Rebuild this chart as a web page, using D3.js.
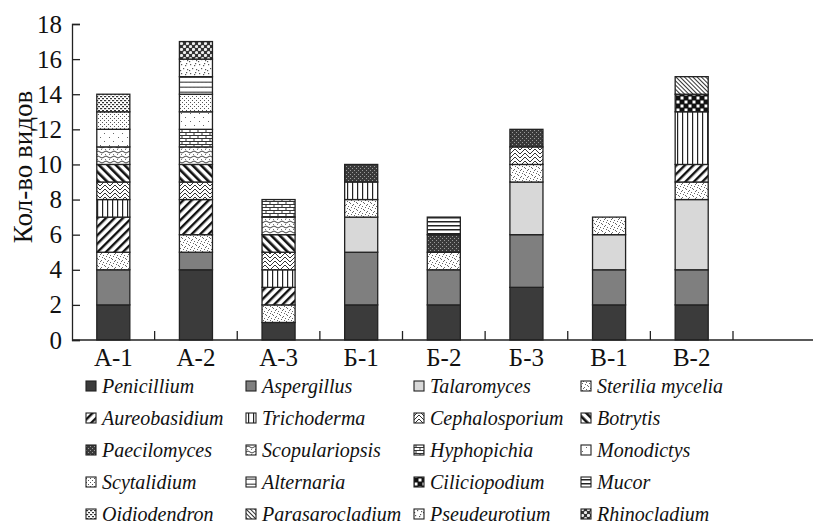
<!DOCTYPE html>
<html>
<head>
<meta charset="utf-8">
<script src="https://cdn.jsdelivr.net/npm/d3@7"></script>
<style>
  html, body { margin: 0; padding: 0; background: #fff; }
  svg { display: block; }
  text { font-family: "Liberation Serif", "Times New Roman", serif; fill: #111; }
</style>
</head>
<body>
<svg id="chart" width="813" height="529"></svg>
<script>
// Sampling sites
const categories = ["А-1", "А-2", "А-3", "Б-1", "Б-2", "Б-3", "В-1", "В-2"];

// Number of species per genus at each site (same order as categories)
const penicillium     = [2, 4, 1, 2, 2, 3, 2, 2];
const aspergillus     = [2, 1, 0, 3, 2, 3, 2, 2];
const talaromyces     = [0, 0, 0, 2, 0, 3, 2, 4];
const steriliaMycelia = [1, 1, 1, 1, 1, 1, 1, 1];
const aureobasidium   = [2, 2, 1, 0, 0, 0, 0, 1];
const trichoderma     = [1, 0, 1, 1, 0, 0, 0, 3];
const cephalosporium  = [1, 1, 1, 0, 0, 1, 0, 0];
const botrytis        = [1, 1, 1, 0, 0, 0, 0, 0];
const paecilomyces    = [0, 0, 0, 1, 1, 1, 0, 0];
const scopulariopsis  = [1, 1, 1, 0, 0, 0, 0, 0];
const hyphopichia     = [0, 1, 1, 0, 0, 0, 0, 0];
const monodictys      = [1, 1, 0, 0, 0, 0, 0, 0];
const scytalidium     = [1, 1, 0, 0, 0, 0, 0, 0];
const alternaria      = [0, 1, 0, 0, 0, 0, 0, 0];
const ciliciopodium   = [0, 0, 0, 0, 0, 0, 0, 1];
const mucor           = [0, 0, 0, 0, 1, 0, 0, 0];
const oidiodendron    = [1, 0, 0, 0, 0, 0, 0, 0];
const parasarocladium = [0, 0, 0, 0, 0, 0, 0, 1];
const pseudeurotium   = [0, 1, 0, 0, 0, 0, 0, 0];
const rhinocladium    = [0, 1, 0, 0, 0, 0, 0, 0];

const seriesNames = [
  "Penicillium", "Aspergillus", "Talaromyces", "Sterilia mycelia",
  "Aureobasidium", "Trichoderma", "Cephalosporium", "Botrytis",
  "Paecilomyces", "Scopulariopsis", "Hyphopichia", "Monodictys",
  "Scytalidium", "Alternaria", "Ciliciopodium", "Mucor",
  "Oidiodendron", "Parasarocladium", "Pseudeurotium", "Rhinocladium"
];
const seriesValues = [
  penicillium, aspergillus, talaromyces, steriliaMycelia,
  aureobasidium, trichoderma, cephalosporium, botrytis,
  paecilomyces, scopulariopsis, hyphopichia, monodictys,
  scytalidium, alternaria, ciliciopodium, mucor,
  oidiodendron, parasarocladium, pseudeurotium, rhinocladium
];
const yTicks = [0, 2, 4, 6, 8, 10, 12, 14, 16, 18];

const svg = d3.select("#chart");
const defs = svg.append("defs");

// ---- fill patterns, one per genus ----
function pattern(id, w, h, bg, draw, transform) {
  const p = defs.append("pattern")
    .attr("id", id).attr("patternUnits", "userSpaceOnUse")
    .attr("width", w).attr("height", h);
  if (transform) p.attr("patternTransform", transform);
  p.append("rect").attr("width", w).attr("height", h).attr("fill", bg);
  draw(p);
  return "url(#" + id + ")";
}
const dots = (g, pts, r, col) => pts.forEach(([x, y]) =>
  g.append("rect").attr("x", x).attr("y", y).attr("width", r).attr("height", r).attr("fill", col));

const fills = {};
fills["Penicillium"] = "#3b3b3b";
fills["Aspergillus"] = "#7f7f7f";
fills["Talaromyces"] = "#d8d8d8";
fills["Sterilia mycelia"] = pattern("p-ster", 7, 7, "#fff", g =>
  dots(g, [[0,0],[3,1],[5,3],[1,4],[4,5],[6,6],[2,2]], 1, "#666"));
fills["Aureobasidium"] = pattern("p-aureo", 6, 6, "#fff", g =>
  g.append("rect").attr("x", 0).attr("width", 2.4).attr("height", 6).attr("fill", "#111"), "rotate(45)");
fills["Trichoderma"] = pattern("p-tricho", 5, 5, "#fff", g =>
  g.append("rect").attr("x", 2).attr("width", 1.2).attr("height", 5).attr("fill", "#222"));
// herringbone: alternating columns of "/" and "\" strokes
fills["Cephalosporium"] = pattern("p-ceph", 10, 8, "#fff", g =>
  g.append("path").attr("d", "M0,6 L5,1 M0,10 L5,5 M0,2 L5,-3 M5,1 L10,6 M5,5 L10,10 M5,-3 L10,2")
    .attr("stroke", "#333").attr("stroke-width", 1).attr("fill", "none"));
fills["Botrytis"] = pattern("p-botr", 6, 6, "#fff", g =>
  g.append("rect").attr("x", 0).attr("width", 2.6).attr("height", 6).attr("fill", "#111"), "rotate(-45)");
fills["Paecilomyces"] = pattern("p-paec", 4, 4, "#3a3a3a", g =>
  dots(g, [[0,0],[2,2]], 1, "#9a9a9a"));
fills["Scopulariopsis"] = pattern("p-scop", 8, 5, "#fff", g => {
  g.append("path").attr("d", "M0,2 Q2,0 4,2 T8,2").attr("stroke", "#444").attr("stroke-width", 1).attr("fill", "none");
  dots(g, [[1,4],[5,4]], 1, "#777");
});
fills["Hyphopichia"] = pattern("p-hyph", 8, 6, "#fff", g =>
  g.append("path").attr("d", "M0,0.5 H8 M0,3.5 H8 M2,0.5 V3.5 M6,3.5 V6.5")
    .attr("stroke", "#333").attr("stroke-width", 1).attr("fill", "none"));
fills["Monodictys"] = pattern("p-mono", 9, 8, "#fff", g =>
  dots(g, [[1,1],[5,5]], 1, "#666"));
fills["Scytalidium"] = pattern("p-scyt", 4, 4, "#fff", g =>
  dots(g, [[0,0],[2,2]], 1, "#555"));
fills["Alternaria"] = pattern("p-alt", 4, 5, "#fff", g =>
  g.append("path").attr("d", "M0,3 L1,1.5 L2,3 L3,1.5 L4,3").attr("stroke", "#444").attr("stroke-width", 0.9).attr("fill", "none"));
fills["Ciliciopodium"] = pattern("p-cili", 8, 8, "#111", g => {
  g.append("rect").attr("x", 0.5).attr("y", 0.5).attr("width", 3).attr("height", 3).attr("fill", "#fff");
  g.append("rect").attr("x", 4.5).attr("y", 4.5).attr("width", 3).attr("height", 3).attr("fill", "#fff");
});
fills["Mucor"] = pattern("p-mucor", 4, 4, "#fff", g =>
  g.append("rect").attr("y", 1).attr("width", 4).attr("height", 1.5).attr("fill", "#222"));
fills["Oidiodendron"] = pattern("p-oidio", 4, 4, "#fff", g =>
  dots(g, [[0,0],[2,2],[1,0],[3,2]], 1.2, "#333"));
fills["Parasarocladium"] = pattern("p-para", 3, 3, "#fff", g =>
  g.append("rect").attr("x", 0).attr("width", 1).attr("height", 3).attr("fill", "#333"), "rotate(-45)");
fills["Pseudeurotium"] = pattern("p-pseu", 9, 9, "#fff", g =>
  dots(g, [[1,1],[5,2],[3,5],[7,6],[0,7],[6,0]], 1.2, "#555"));
fills["Rhinocladium"] = pattern("p-rhino", 6, 6, "#333", g => {
  g.append("circle").attr("cx", 1.5).attr("cy", 1.5).attr("r", 1.6).attr("fill", "#eee");
  g.append("circle").attr("cx", 4.5).attr("cy", 4.5).attr("r", 1.6).attr("fill", "#eee");
});

// ---- scales ----
const x = d3.scaleBand().domain(categories).range([72, 733]).paddingInner(0.6).paddingOuter(0.3);
const y = d3.scaleLinear().domain([0, 18]).range([340, 24]);

// ---- stacked data ----
const table = categories.map((c, i) => {
  const row = { site: c };
  seriesNames.forEach((n, k) => { row[n] = seriesValues[k][i]; });
  return row;
});
const stacked = d3.stack().keys(seriesNames)(table);

const bars = svg.append("g");
stacked.forEach(layer => {
  bars.append("g").selectAll("rect")
    .data(layer.filter(d => d[1] > d[0]))
    .join("rect")
    .attr("x", d => x(d.data.site))
    .attr("width", x.bandwidth())
    .attr("y", d => y(d[1]))
    .attr("height", d => y(d[0]) - y(d[1]))
    .attr("fill", fills[layer.key])
    .attr("stroke", "#222")
    .attr("stroke-width", 1.3);
});

// ---- axes ----
const yAxis = svg.append("g").attr("transform", "translate(72,0)")
  .call(d3.axisLeft(y).tickValues(yTicks).tickSize(-8).tickPadding(10));
yAxis.select(".domain").attr("stroke", "#222").attr("stroke-width", 1.3);
yAxis.selectAll(".tick line").attr("stroke", "#222").attr("stroke-width", 1.3);
yAxis.selectAll(".tick text").attr("font-size", 25).attr("fill", "#111");

const xAxis = svg.append("g").attr("transform", "translate(0,340)")
  .call(d3.axisBottom(x).tickSize(0).tickPadding(8));
xAxis.select(".domain").remove();
xAxis.selectAll(".tick text").attr("font-size", 25).attr("fill", "#111");
svg.append("line").attr("x1", 72).attr("x2", 813).attr("y1", 340).attr("y2", 340)
  .attr("stroke", "#222").attr("stroke-width", 1.3);
// separators between sites
const step = x.step();
const bounds = d3.range(1, categories.length + 1).map(i => x(categories[0]) - x.paddingOuter() * step + i * step);
svg.append("g").selectAll("line").data(bounds).join("line")
  .attr("x1", d => d).attr("x2", d => d).attr("y1", 340).attr("y2", 331)
  .attr("stroke", "#222").attr("stroke-width", 1.3);

// y-axis title
svg.append("text")
  .attr("transform", "translate(32,167) rotate(-90)")
  .attr("text-anchor", "middle")
  .attr("font-size", 27)
  .text("Кол-во видов");

// ---- legend ----
const colX = [86, 246, 414, 581];
const rowY = [386, 418, 450, 482, 514];
const legend = svg.append("g");
seriesNames.forEach((n, k) => {
  const cx = colX[k % 4], cy = rowY[Math.floor(k / 4)];
  const g = legend.append("g").attr("transform", `translate(${cx},${cy})`);
  g.append("rect").attr("x", 0).attr("y", -5).attr("width", 10).attr("height", 10)
    .attr("fill", fills[n]).attr("stroke", "#222").attr("stroke-width", 1.1);
  g.append("text").attr("x", 16).attr("y", 0).attr("dy", "0.35em")
    .attr("font-size", 20).attr("font-style", "italic").text(n);
});
</script>
</body>
</html>
